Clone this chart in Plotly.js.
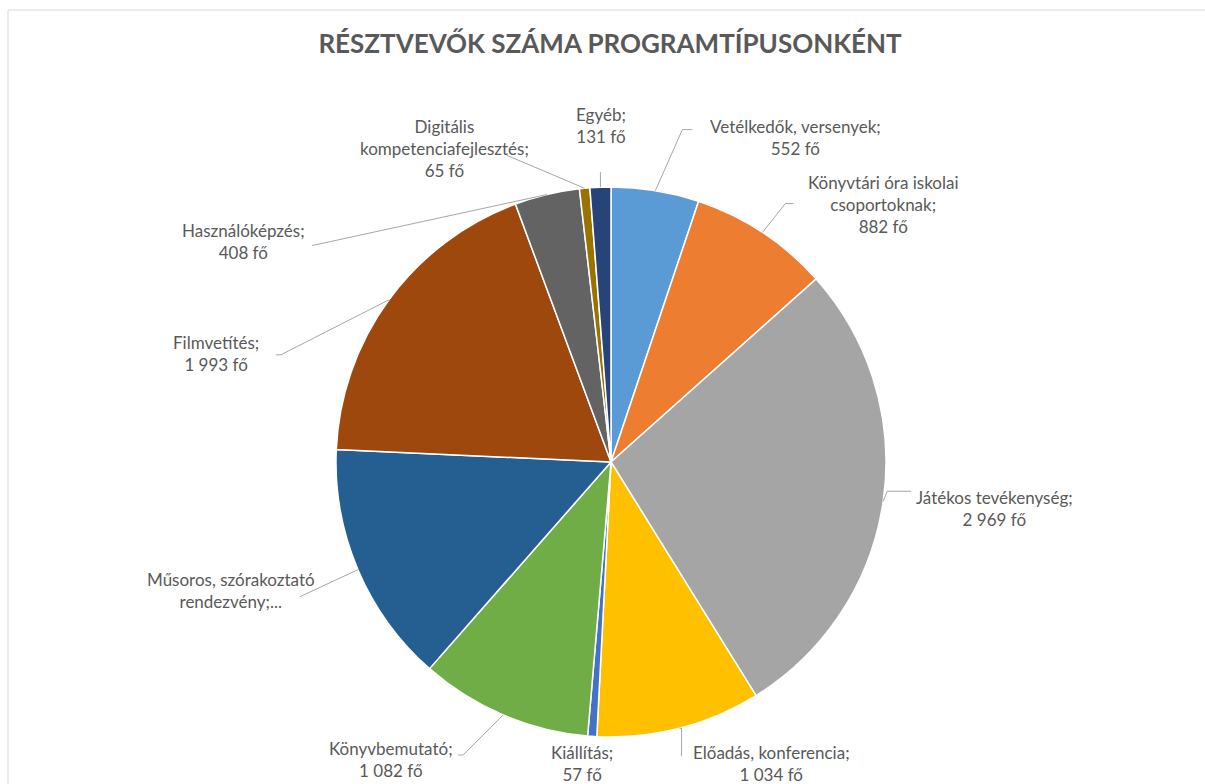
<!DOCTYPE html>
<html>
<head>
<meta charset="utf-8">
<script src="https://cdn.plot.ly/plotly-3.0.1.min.js"></script>
<style>
html,body{margin:0;padding:0;background:#fff;}
#chart{width:1205px;height:784px;}
</style>
</head>
<body>
<div id="chart"></div>
<script>
// ---- data ----
const categories = [
  "Vetélkedők, versenyek", "Könyvtári óra iskolai csoportoknak", "Játékos tevékenység",
  "Előadás, konferencia", "Kiállítás", "Könyvbemutató", "Műsoros, szórakoztató rendezvény",
  "Filmvetítés", "Használóképzés", "Digitális kompetenciafejlesztés", "Egyéb"
];
const values = [552, 882, 2969, 1034, 57, 1082, 1525, 1993, 408, 65, 131];
const labelNames = [
  "Vetélkedők, versenyek;", "Könyvtári óra iskolai<br>csoportoknak;", "Játékos tevékenység;",
  "Előadás, konferencia;", "Kiállítás;", "Könyvbemutató;", "Műsoros, szórakoztató<br>rendezvény;...",
  "Filmvetítés;", "Használóképzés;", "Digitális<br>kompetenciafejlesztés;", "Egyéb;"
];
const showValue = [true, true, true, true, true, true, false, true, true, true, true];
const unit = "fő";
const chartTitle = "RÉSZTVEVŐK SZÁMA PROGRAMTÍPUSONKÉNT";

// ---- style / layout ----
const colors = ["#5B9BD5", "#ED7D31", "#A5A5A5", "#FFC000", "#4472C4", "#70AD47",
                "#255E91", "#9E480E", "#636363", "#997300", "#264478"];
const W = 1205, H = 784, CX = 611, CY = 462, R = 275;
// label text offset (px) from slice edge point, and leader line points (px offsets)
const labelPlace = [
  {dx: 140, dy: -53, line: [[27, -61], [37, -61]]},
  {dx: 121, dy: -28, line: [[23, -29], [31, -29]]},
  {dx: 111, dy: 7,   line: [[4, -10], [28, -10]]},
  {dx: 92,  dy: 35,  line: [[2, 0], [2, 28]]},
  {dx: -10, dy: 27,  line: null},
  {dx: -112, dy: 45, line: [[-40, 40], [-45, 40]]},
  {dx: -127, dy: 21, line: [[-58, 27]]},
  {dx: -173, dy: 54, line: [[-108, 55], [-113, 55]]},
  {dx: -303, dy: 47, line: [[-235, 51]]},
  {dx: -140, dy: -40, line: [[-78, -33]]},
  {dx: 1, dy: -62,   line: [[0, -15]]}
];
const textFont = {family: "Lato, 'Open Sans', sans-serif", size: 17, color: "#595959"};

function fmt(v) { return String(v).replace(/\B(?=(\d{3})+(?!\d))/g, " "); }

const total = values.reduce((a, b) => a + b, 0);
let cum = 0;
const annotations = [];
const shapes = [];
values.forEach((v, i) => {
  const mid = (cum + v / 2) / total * 2 * Math.PI;
  cum += v;
  const ex = CX + R * Math.sin(mid);
  const ey = CY - R * Math.cos(mid);
  const p = labelPlace[i];
  const txt = labelNames[i] + (showValue[i] ? "<br>" + fmt(v) + " " + unit : "");
  annotations.push({
    x: ex / W, y: 1 - ey / H, xref: "paper", yref: "paper",
    xshift: p.dx, yshift: -p.dy, xanchor: "center", yanchor: "middle",
    text: txt, showarrow: false, align: "center", font: textFont
  });
  if (p.line) {
    let d = "M " + (ex / W) + "," + (1 - ey / H);
    p.line.forEach(pt => {
      d += " L " + ((ex + pt[0]) / W) + "," + (1 - (ey + pt[1]) / H);
    });
    shapes.push({type: "path", xref: "paper", yref: "paper", path: d,
                 line: {color: "#A6A6A6", width: 1}});
  }
});
// chart border
shapes.push({type: "rect", xref: "paper", yref: "paper", x0: 8 / W, x1: 1.01, y0: -0.01, y1: 1 - 10 / H,
             line: {color: "#D9D9D9", width: 1}, layer: "below"});

const trace = {
  type: "pie",
  labels: categories,
  values: values,
  sort: false,
  direction: "clockwise",
  rotation: 0,
  textinfo: "none",
  hoverinfo: "label+value",
  marker: {colors: colors, line: {color: "#FFFFFF", width: 1.5}},
  domain: {x: [(CX - R) / W, (CX + R) / W], y: [1 - (CY + R) / H, 1 - (CY - R) / H]},
  showlegend: false
};

const layout = {
  width: W, height: H,
  margin: {l: 0, r: 0, t: 0, b: 0},
  paper_bgcolor: "#FFFFFF",
  title: {text: "<b>" + chartTitle + "</b>", x: 610 / W, xanchor: "center", y: 1 - 44 / H, yanchor: "middle",
          xref: "paper", yref: "paper",
          font: {family: "Lato, 'Open Sans', sans-serif", size: 26, color: "#595959"}},
  annotations: annotations,
  shapes: shapes,
  showlegend: false
};

Plotly.newPlot("chart", [trace], layout, {displayModeBar: false, staticPlot: true});
</script>
</body>
</html>
